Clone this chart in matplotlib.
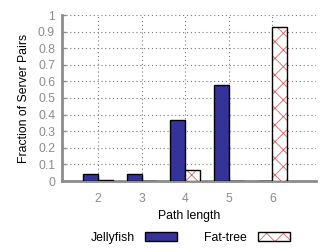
import matplotlib
matplotlib.use("Agg")
import matplotlib.pyplot as plt
import numpy as np
from matplotlib.patches import Patch
from matplotlib.legend_handler import HandlerTuple

plt.rcParams['font.family'] = ['Liberation Sans', 'DejaVu Sans']
plt.rcParams['hatch.linewidth'] = 0.6

path_lengths = [2, 3, 4, 5, 6]
jellyfish = [0.045, 0.045, 0.37, 0.58, 0.003]
fattree = [0.007, 0.0, 0.068, 0.0, 0.925]
series_names = ["Jellyfish", "Fat-tree"]
yticks = [0, 0.1, 0.2, 0.3, 0.4, 0.5, 0.6, 0.7, 0.8, 0.9, 1]
ytick_labels = ["0", "0.1", "0.2", "0.3", "0.4", "0.5", "0.6", "0.7", "0.8", "0.9", "1"]

fig = plt.figure(figsize=(3.36, 2.52), dpi=100)
ax = fig.add_axes([62/336, 1-181/252, (316-62)/336, (181-15)/252])

x = np.array(path_lengths, dtype=float)
w = 0.34
gray = '#8c8c8c'
blue = '#333399'
red = '#e06060'
ax.bar(x - w/2, jellyfish, w, color=blue, edgecolor='black', linewidth=1.0, zorder=3)
ax.bar(x + w/2, fattree, w, color='white', edgecolor=red, hatch='xx',
       linewidth=0, zorder=3)
ax.bar(x + w/2, fattree, w, color='none', edgecolor='black', linewidth=1.0, zorder=4)

ax.set_xlim(1.175, 7.0)
ax.set_ylim(0, 1)
ax.set_xticks(path_lengths)
ax.set_yticks(yticks)
ax.set_yticklabels(ytick_labels)
ax.grid(True, linestyle=(0, (1, 2.5)), color='#777777', linewidth=0.8, zorder=0)
for s in ['top', 'right']:
    ax.spines[s].set_visible(False)
for s in ['left', 'bottom']:
    ax.spines[s].set_color(gray)
    ax.spines[s].set_linewidth(2)
ax.tick_params(axis='both', direction='in', colors=gray, labelcolor=gray,
               labelsize=8.8, length=3, width=1)
ax.tick_params(axis='y', pad=5)
ax.tick_params(axis='x', pad=9)
ax.set_xlabel("Path length", fontsize=8.8, labelpad=3)
ax.set_ylabel("Fraction of Server Pairs", fontsize=8.8, labelpad=6)

h1 = Patch(facecolor=blue, edgecolor='black', linewidth=1.0)
h2 = (Patch(facecolor='white', edgecolor=red, hatch='xx', linewidth=0),
      Patch(facecolor='none', edgecolor='black', linewidth=1.0))
leg = fig.legend([h1, h2], series_names, loc='center', bbox_to_anchor=(190/336, 1-238/252),
                 ncol=2, frameon=False, markerfirst=False, fontsize=8.8,
                 handlelength=2.6, handleheight=0.7, columnspacing=2.2, handletextpad=0.9,
                 handler_map={tuple: HandlerTuple(ndivide=1, pad=0)})
fig.savefig("out.png", dpi=100)
